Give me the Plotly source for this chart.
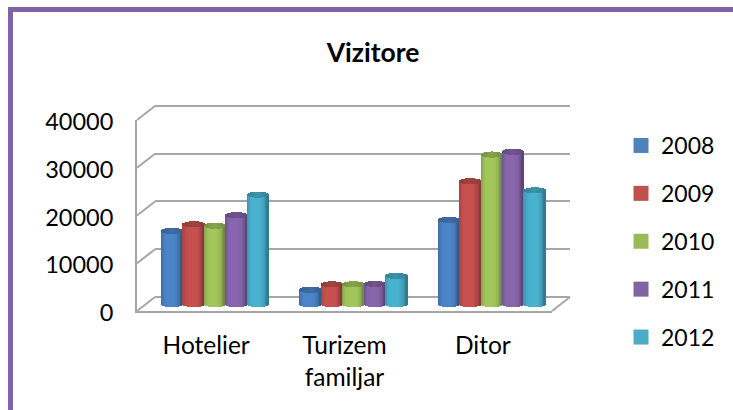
import math
import plotly.graph_objects as go

categories = ["Hotelier", "Turizem<br>familjar", "Ditor"]
years = ["2008", "2009", "2010", "2011", "2012"]
values_2008 = [15300, 3000, 17600]
values_2009 = [16700, 4100, 25700]
values_2010 = [16400, 4100, 31300]
values_2011 = [18600, 4200, 31900]
values_2012 = [22900, 5900, 23800]
series_values = [values_2008, values_2009, values_2010, values_2011, values_2012]
colors = [(74, 130, 196), (196, 80, 78), (160, 195, 90), (134, 100, 170), (72, 175, 205)]
legend_colors = ["#4F81BD", "#C0504D", "#9BBB59", "#8064A2", "#4BACC6"]

W, H = 733, 410
FONT = "Lato"
GRID = "#a6a6a6"


def fx(px):
    return px / W


def fy(py):
    return 1 - py / H


# Front plane and depth offset of the pseudo-3D box
X0, X1, Y0, Y1 = 137, 552, 311, 120
DX, DY = 18, -14

N_COL = 21
BAR_W = 0.155
RY = 640  # half height of the elliptical cap, in value units


def shade(rgb, f):
    return "rgb(%d,%d,%d)" % tuple(min(255, int(c * f)) for c in rgb)


fig = go.Figure()
# Front axes (tick labels) need a trace to anchor them
fig.add_trace(go.Scatter(x=[0], y=[None], xaxis="x", yaxis="y", showlegend=False, hoverinfo="skip"))

for s, vals in enumerate(series_values):
    xs, bases, hs, widths, cols = [], [], [], [], []
    col_w = BAR_W / N_COL
    for cat, v in enumerate(vals):
        cx = cat + (s - 2) * BAR_W
        caps = []
        for k in range(N_COL):
            t = (k + 0.5) / N_COL * 2 - 1
            p = RY * math.sqrt(1 - t * t)
            tl = t + 0.12
            f = 0.70 + 0.32 * (1 - min(1, abs(tl)) ** 3.5)
            xk = cx + t * BAR_W / 2
            xs.append(xk); bases.append(-p); hs.append(v + 2 * p); widths.append(col_w * 1.08); cols.append(shade(colors[s], f))
            caps.append((xk, v - p, 2 * p, shade(colors[s], 0.74 + 0.1 * (1 - abs(t)))))
        for xk, b, h, c in caps:
            xs.append(xk); bases.append(b); hs.append(h); widths.append(col_w * 1.08); cols.append(c)
    fig.add_trace(go.Bar(x=xs, y=hs, base=bases, width=widths, xaxis="x3", yaxis="y3",
                         marker=dict(color=cols, line=dict(width=0)), showlegend=False,
                         hoverinfo="skip", cliponaxis=False))

for name, c in zip(years, legend_colors):
    fig.add_trace(go.Scatter(x=[0], y=[None], xaxis="x2", yaxis="y2", mode="markers", name=name,
                             legendgroup=name,
                             marker=dict(symbol="square", size=15, color=c)))

shapes = []
# Chart frame
shapes.append(dict(type="path", xref="paper", yref="paper",
                   path=f"M {fx(10.5)} {fy(415)} L {fx(10.5)} {fy(9.5)} L {fx(740)} {fy(9.5)}",
                   line=dict(color="#8064A2", width=5)))
# Depth lines on the side wall
for i in range(5):
    yf = Y0 + (Y1 - Y0) * i / 4
    shapes.append(dict(type="line", xref="paper", yref="paper", layer="below",
                       x0=fx(X0), y0=fy(yf), x1=fx(X0 + DX), y1=fy(yf + DY),
                       line=dict(color=GRID, width=2)))
shapes.append(dict(type="line", xref="paper", yref="paper", layer="below",
                   x0=fx(X1), y0=fy(Y0), x1=fx(X1 + DX), y1=fy(Y0 + DY),
                   line=dict(color=GRID, width=2)))

# Back wall axis is widened by PAD value units so the 0 and 40000 grid lines are not dropped
PAD = 1000
px_per_unit = (Y0 - Y1) / 40000

fig.update_layout(
    width=W, height=H, autosize=False,
    margin=dict(l=0, r=0, t=0, b=0, autoexpand=False),
    paper_bgcolor="white", plot_bgcolor="rgba(0,0,0,0)",
    barmode="overlay", bargap=0,
    font=dict(family=FONT, size=23, color="#000000"),
    title=dict(text="<b>Vizitore</b>", x=373 / W, xanchor="center", y=fy(53), yanchor="middle",
               font=dict(family=FONT, size=26.5, color="#000000")),
    shapes=shapes,
    showlegend=True,
    legend=dict(x=fx(621), xanchor="left", y=fy(124), yanchor="top", tracegroupgap=15,
                traceorder="grouped", bgcolor="rgba(0,0,0,0)",
                font=dict(family=FONT, size=23, color="#000000")),
    xaxis=dict(domain=[fx(X0), fx(X1)], range=[-0.5, 2.5], tickmode="array", tickvals=[0, 1, 2],
               ticktext=categories, showline=True, linecolor=GRID, linewidth=2, showgrid=False,
               zeroline=False, ticks="outside", ticklen=12, tickcolor="rgba(0,0,0,0)", anchor="y",
               tickfont=dict(family=FONT, size=24.5)),
    yaxis=dict(domain=[fy(Y0), fy(Y1)], range=[0, 40000], tickmode="array",
               tickvals=[0, 10000, 20000, 30000, 40000], ticktext=["0", "10000", "20000", "30000", "40000"],
               showline=True, linecolor=GRID, linewidth=2, showgrid=False, zeroline=False,
               ticks="outside", ticklen=17, tickcolor="rgba(0,0,0,0)", anchor="x",
               ticklabelshift=2, tickfont=dict(family=FONT, size=23.5)),
    xaxis2=dict(domain=[fx(X0 + DX), fx(X1 + DX)], range=[-0.5, 2.5], visible=False, anchor="y2"),
    yaxis2=dict(domain=[fy(Y0 + DY + PAD * px_per_unit), fy(Y1 + DY - PAD * px_per_unit)],
                range=[-PAD, 40000 + PAD], tickmode="array",
                tickvals=[0, 10000, 20000, 30000, 40000], showticklabels=False, showgrid=True,
                gridcolor=GRID, gridwidth=2, zeroline=True, zerolinecolor=GRID, zerolinewidth=2,
                showline=False, ticks="", anchor="x2"),
    xaxis3=dict(domain=[fx(X0 + 9), fx(X1 + 9)], range=[-0.5, 2.5], visible=False, anchor="y3"),
    yaxis3=dict(domain=[fy(304 + PAD * px_per_unit), fy(304 - 191)], range=[-PAD, 40000], visible=False, anchor="x3"),
)

fig.write_html("out.html", config={"displayModeBar": False},
               post_script="document.body.style.margin='0';document.documentElement.style.overflow='hidden';")
